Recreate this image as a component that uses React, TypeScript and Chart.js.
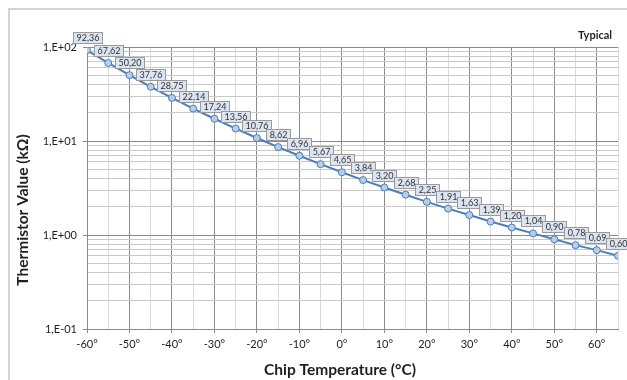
import React, { useEffect, useRef } from "react";
import { Chart, registerables } from "chart.js";

Chart.register(...registerables);

const temperatures = [-60, -55, -50, -45, -40, -35, -30, -25, -20, -15, -10, -5, 0, 5, 10, 15, 20, 25, 30, 35, 40, 45, 50, 55, 60, 65];
const resistances = [92.36, 67.62, 50.2, 37.76, 28.75, 22.14, 17.24, 13.56, 10.76, 8.62, 6.96, 5.67, 4.65, 3.84, 3.2, 2.68, 2.25, 1.91, 1.63, 1.39, 1.2, 1.04, 0.9, 0.78, 0.69, 0.6];
const xTickValues = [-60, -55, -50, -45, -40, -35, -30, -25, -20, -15, -10, -5, 0, 5, 10, 15, 20, 25, 30, 35, 40, 45, 50, 55, 60, 65];
const xTickLabels = ["-60°", "", "-50°", "", "-40°", "", "-30°", "", "-20°", "", "-10°", "", "0°", "", "10°", "", "20°", "", "30°", "", "40°", "", "50°", "", "60°", ""];
const yTickValues = [0.1, 1, 10, 100];
const yTickLabels = ["1,E-01", "1,E+00", "1,E+01", "1,E+02"];
const yMinorMantissas = [2, 3, 4, 5, 6, 7, 8, 9];
const xTitle = "Chip Temperature (°C)";
const yTitle = "Thermistor Value (kΩ)";
const cornerNote = "Typical";

const FONT = "Lato, 'Open Sans', sans-serif";
const MAJOR = "#8a8a8a";
const MINOR_X = "#dadada";
const MINOR_Y = "#c9c9c9";
const TEXT = "#1f1f1f";

const isMajorY = (v: number) => yTickValues.some((t) => Math.abs(t - v) < 1e-9);
const isMajorX = (v: number) => Math.abs(v % 10) < 1e-9;

const yGridValues: number[] = [];
yTickValues.forEach((d, i) => {
  yGridValues.push(d);
  if (i < yTickValues.length - 1) yMinorMantissas.forEach((m) => yGridValues.push(m * d));
});

const labelsPlugin = {
  id: "boxLabels",
  afterDatasetsDraw(chart: any) {
    const ctx = chart.ctx;
    const meta = chart.getDatasetMeta(0);
    ctx.save();
    ctx.font = `9px ${FONT}`;
    ctx.textAlign = "center";
    ctx.textBaseline = "middle";
    meta.data.forEach((pt: any, i: number) => {
      const txt = resistances[i].toFixed(2).replace(".", ",");
      const w = Math.ceil(ctx.measureText(txt).width) + 6;
      const h = 11;
      const bx = Math.round(pt.x - w / 2) + 0.5;
      const by = Math.round(pt.y - 7 - h) + 0.5;
      ctx.fillStyle = "#dbe4f0";
      ctx.strokeStyle = "#9a9a9a";
      ctx.lineWidth = 1;
      ctx.fillRect(bx, by, w, h);
      ctx.strokeRect(bx, by, w, h);
      ctx.fillStyle = "#333333";
      ctx.fillText(txt, bx + w / 2, by + h / 2 + 0.5);
    });
    ctx.restore();
  },
  afterDraw(chart: any) {
    const ctx = chart.ctx;
    ctx.save();
    ctx.fillStyle = TEXT;
    ctx.textAlign = "center";
    ctx.textBaseline = "middle";
    ctx.font = `bold 15.5px ${FONT}`;
    ctx.fillText(xTitle, 330, 360);
    ctx.save();
    ctx.translate(13, 200);
    ctx.rotate(-Math.PI / 2);
    ctx.fillText(yTitle, 0, 0);
    ctx.restore();
    ctx.font = `bold 11px ${FONT}`;
    ctx.fillText(cornerNote, 585, 25);
    ctx.restore();
  },
};

export default function App() {
  const ref = useRef<HTMLCanvasElement>(null);
  useEffect(() => {
    if (!ref.current) return;
    const chart = new Chart(ref.current, {
      type: "line",
      data: {
        datasets: [
          {
            data: temperatures.map((t, i) => ({ x: t, y: resistances[i] })),
            borderColor: "#4a7ebb",
            borderWidth: 2,
            pointRadius: 3.5,
            pointBackgroundColor: "#b9cde5",
            pointBorderColor: "#4a7ebb",
            pointBorderWidth: 1,
            tension: 0,
          },
        ],
      },
      options: {
        animation: false,
        responsive: false,
        devicePixelRatio: 1,
        layout: { padding: { top: 37, right: 9, left: 0, bottom: 0 } },
        plugins: { legend: { display: false }, tooltip: { enabled: false } },
        scales: {
          x: {
            type: "linear",
            min: -60,
            max: 65,
            afterBuildTicks: (scale: any) => {
              scale.ticks = xTickValues.map((v) => ({ value: v }));
            },
            afterFit: (scale: any) => {
              scale.height = 51;
            },
            ticks: {
              autoSkip: false,
              maxRotation: 0,
              padding: 5,
              color: TEXT,
              font: { family: FONT, size: 11 },
              callback: (v: any) => {
                const idx = xTickValues.indexOf(Number(v));
                return idx >= 0 ? xTickLabels[idx] : "";
              },
            },
            grid: {
              color: (c: any) => (c.tick && isMajorX(c.tick.value) ? MAJOR : MINOR_X),
              tickColor: (c: any) => (c.tick && isMajorX(c.tick.value) ? MAJOR : "rgba(0,0,0,0)"),
              tickLength: 4,
            },
            border: { color: MAJOR, width: 1 },
          },
          y: {
            type: "logarithmic",
            min: 0.1,
            max: 100,
            afterBuildTicks: (scale: any) => {
              scale.ticks = yGridValues.map((v) => ({ value: v }));
            },
            afterFit: (scale: any) => {
              scale.width = 77;
            },
            ticks: {
              autoSkip: false,
              padding: 6,
              color: TEXT,
              font: { family: FONT, size: 11 },
              callback: (v: any) => {
                const idx = yTickValues.findIndex((t) => Math.abs(t - Number(v)) < 1e-9);
                return idx >= 0 ? yTickLabels[idx] : "";
              },
            },
            grid: {
              color: (c: any) => (c.tick && isMajorY(c.tick.value) ? MAJOR : MINOR_Y),
              tickColor: (c: any) => (c.tick && isMajorY(c.tick.value) ? MAJOR : "rgba(0,0,0,0)"),
              tickLength: 4,
            },
            border: { color: MAJOR, width: 1 },
          },
        },
      },
      plugins: [labelsPlugin],
    });
    return () => chart.destroy();
  }, []);
  return (
    <div
      style={{
        position: "absolute",
        left: 8,
        top: 8,
        width: 619,
        height: 372,
        boxSizing: "border-box",
        borderTop: "2px solid #d4d4d4",
        borderLeft: "2px solid #d4d4d4",
        background: "#ffffff",
      }}
    >
      <canvas ref={ref} width={617} height={370} style={{ display: "block" }} />
    </div>
  );
}
